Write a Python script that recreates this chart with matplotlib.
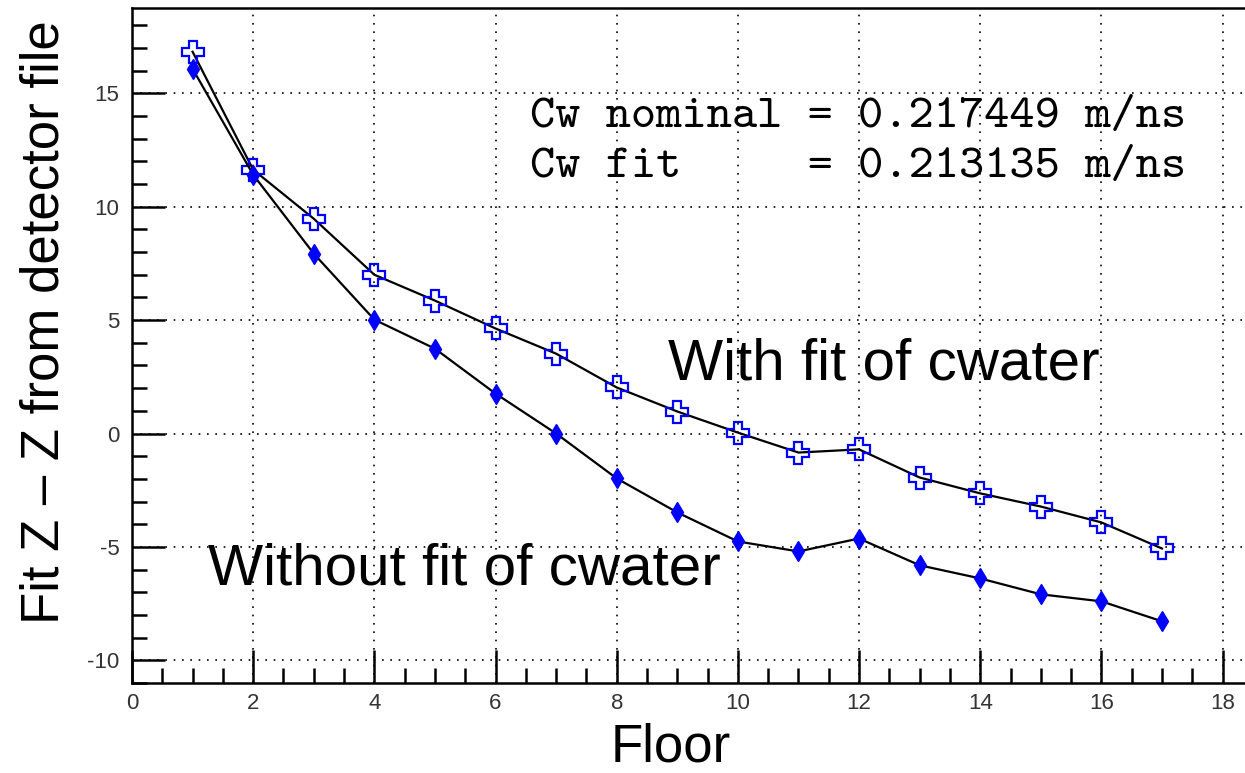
import matplotlib
matplotlib.use('Agg')
import matplotlib.pyplot as plt
from matplotlib.ticker import MultipleLocator

plt.rcParams['font.family'] = ['Liberation Sans', 'DejaVu Sans']
plt.rcParams['axes.unicode_minus'] = False

# === Data ===
floors = [1, 2, 3, 4, 5, 6, 7, 8, 9, 10, 11, 12, 13, 14, 15, 16, 17]
with_fit = [16.83, 11.63, 9.47, 7.0, 5.86, 4.63, 3.52, 2.03, 0.97, 0.04,
            -0.84, -0.70, -1.94, -2.64, -3.22, -3.92, -5.07]
without_fit = [16.08, 11.41, 7.93, 5.02, 3.74, 1.76, 0.0, -1.98, -3.48, -4.76,
               -5.20, -4.63, -5.81, -6.39, -7.09, -7.40, -8.28]
cw_lines = ["Cw nominal = 0.217449 m/ns",
            "Cw fit     = 0.213135 m/ns"]

fig = plt.figure(figsize=(12.45, 7.73), dpi=100)
ax = fig.add_axes([132 / 1245, 90 / 773, 1113 / 1245, 675 / 773])

ax.plot(floors, with_fit, color='black', lw=1.6, marker='P', markersize=16,
        markerfacecolor='none', markeredgecolor='blue', markeredgewidth=1.6, zorder=3)
ax.plot(floors, without_fit, color='black', lw=1.6, marker='d', markersize=10,
        markerfacecolor='blue', markeredgecolor='blue', zorder=3)

ax.set_xlim(0, 18.37)
ax.set_ylim(-11, 18.76)

ax.xaxis.set_major_locator(MultipleLocator(2))
ax.xaxis.set_minor_locator(MultipleLocator(0.5))
ax.yaxis.set_major_locator(MultipleLocator(5))
ax.yaxis.set_minor_locator(MultipleLocator(1))
ax.tick_params(which='both', direction='in', top=False, right=False, width=1.8, color='black')
ax.tick_params(which='major', length=24, labelsize=16, labelcolor='#333333')
ax.tick_params(which='minor', length=11)
ax.tick_params(axis='y', pad=9)
ax.tick_params(axis='x', pad=7)

ax.grid(True, which='major', color='black', lw=1.2, linestyle=(0, (1, 4)))
ax.set_axisbelow(True)

for side in ['left', 'bottom', 'top']:
    ax.spines[side].set_linewidth(1.8)
ax.spines['right'].set_visible(False)

ax.set_xlabel("Floor", fontsize=38)
ax.xaxis.set_label_coords(0.484, -0.058)
ax.set_ylabel("Fit Z \u2013 Z from detector file", fontsize=38)
ax.yaxis.set_label_coords(-0.056, 0.535)

ax.text(8.84, 2.38, "With fit of cwater", fontsize=42, va='baseline')
ax.text(1.25, -6.65, "Without fit of cwater", fontsize=42, va='baseline')
ax.text(6.57, 13.5, cw_lines[0], fontsize=34.6, family='cmtt10', va='baseline')
ax.text(6.57, 11.3, cw_lines[1], fontsize=34.6, family='cmtt10', va='baseline')

fig.savefig('out.png', dpi=100)
